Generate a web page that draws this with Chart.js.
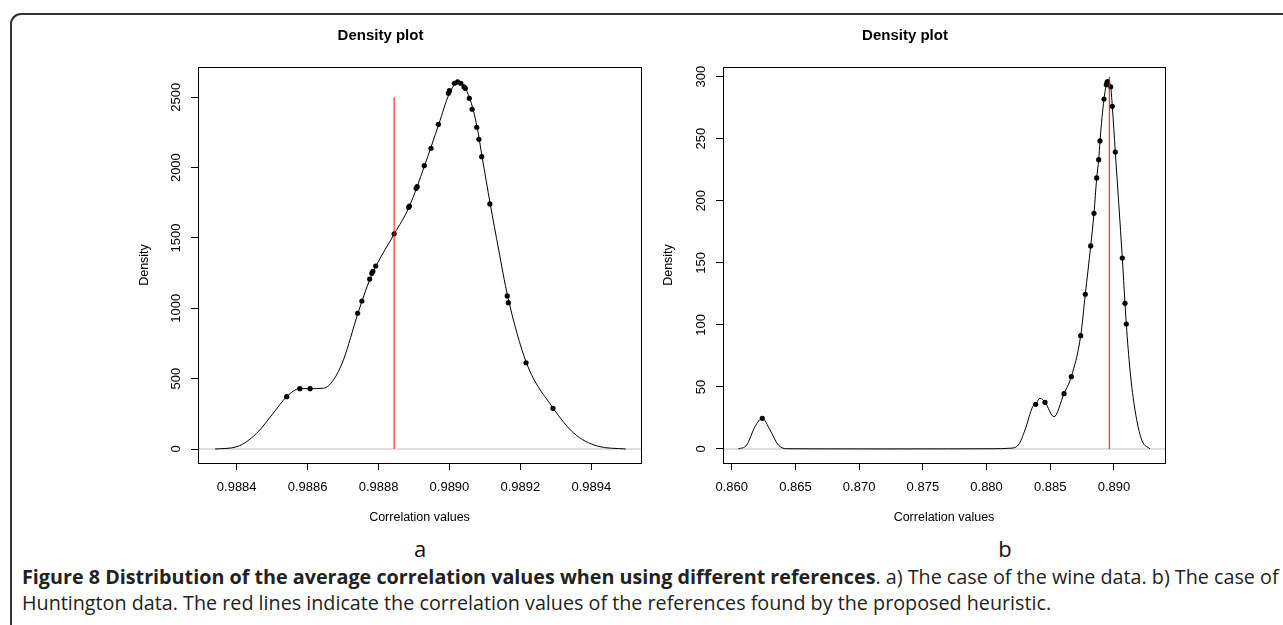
<!DOCTYPE html>
<html>
<head>
<meta charset="utf-8">
<script src="https://cdn.jsdelivr.net/npm/chart.js@4.4.1/dist/chart.umd.min.js"></script>
<style>
  html, body { margin: 0; padding: 0; background: #fff; }
  body { width: 1283px; height: 625px; position: relative; overflow: hidden; }
  .frame { position: absolute; left: 10px; top: 13px; width: 1300px; height: 700px; box-sizing: border-box;
           border-top: 2px solid #333; border-left: 2px solid #333; border-top-left-radius: 11px; }
  .panel { position: absolute; top: 20px; }
  #panelA { left: 120px; }
  #panelB { left: 645px; }
  .letter { position: absolute; top: 533px; width: 40px; margin-left: -20px; text-align: center;
            font: 22px "Open Sans", sans-serif; line-height: 30px; color: #111; }
  .caption { position: absolute; left: 22px; font-family: "Open Sans", sans-serif; font-size: 15px;
             white-space: nowrap; color: #222; line-height: 20px; }
</style>
</head>
<body>
<div class="frame"></div>
<canvas id="panelA" class="panel" width="540" height="510"></canvas>
<canvas id="panelB" class="panel" width="540" height="510"></canvas>
<div class="letter" style="left:420px">a</div>
<div class="letter" style="left:1005px">b</div>
<div id="cap1" class="caption" style="top:567px"><b>Figure 8 Distribution of the average correlation values when using different references</b>. a) The case of the wine data. b) The case of</div>
<div id="cap2" class="caption" style="top:593px">Huntington data. The red lines indicate the correlation values of the references found by the proposed heuristic.</div>
<script>
// a) wine data
const leftCurveX = [0.988339, 0.988400, 0.988456, 0.988503, 0.988541, 0.988578, 0.988607, 0.988645, 0.988673, 0.988701,
    0.988742, 0.988776, 0.988793, 0.988845, 0.988886, 0.988930, 0.988970, 0.988999, 0.989026, 0.989057,
    0.989078, 0.989092, 0.989115, 0.989139, 0.989164, 0.989217, 0.989293, 0.989351, 0.989417, 0.989497];
const leftCurveY = [0, 16, 111, 254, 372, 429, 429, 432, 491, 633,
    965, 1209, 1302, 1531, 1719, 2015, 2309, 2522, 2612, 2494,
    2288, 2079, 1742, 1415, 1088, 614, 289, 112, 21, 0];
const leftPointX = [0.988541, 0.988578, 0.988607, 0.988741, 0.988753, 0.988775, 0.988781, 0.988784, 0.988792, 0.988844,
    0.988885, 0.988887, 0.988906, 0.988909, 0.988929, 0.988948, 0.988969, 0.988997, 0.989000, 0.989014,
    0.989023, 0.989032, 0.989041, 0.989045, 0.989056, 0.989064, 0.989077, 0.989083, 0.989091, 0.989114,
    0.989163, 0.989166, 0.989216, 0.989292];
const leftPointY = [372, 429, 429, 965, 1052, 1208, 1249, 1263, 1301, 1530,
    1718, 1727, 1853, 1865, 2015, 2138, 2308, 2528, 2547, 2600,
    2609, 2600, 2575, 2564, 2493, 2415, 2287, 2201, 2078, 1742,
    1088, 1040, 613, 289];
const leftRefX = 0.988844;
const leftRefTop = 2500;
const leftXTicks = [0.9884, 0.9886, 0.9888, 0.9890, 0.9892, 0.9894];
const leftYTicks = [0, 500, 1000, 1500, 2000, 2500];

// b) Huntington data
const rightCurveX = [0.860518, 0.861177, 0.861828, 0.862401, 0.863006, 0.863657, 0.864316, 0.867, 0.872, 0.877,
    0.8805, 0.881840, 0.882491, 0.883017, 0.883621, 0.883856, 0.884194, 0.884586, 0.885293, 0.886077,
    0.886650, 0.887388, 0.887749, 0.888172, 0.888431, 0.888643, 0.888800, 0.888902, 0.889216, 0.889428,
    0.889553, 0.889742, 0.889867, 0.890103, 0.890652, 0.890864, 0.890966, 0.891256, 0.891649, 0.892175,
    0.892826];
const rightCurveY = [0, 3.2, 18.0, 24.7, 15.3, 3.2, 0.2, 0.1, 0.05, 0.1,
    0.2, 0.6, 3.2, 15.3, 34.1, 36.0, 40.9, 37.6, 26.0, 44.6,
    58.3, 91.3, 124.7, 163.6, 189.9, 218.4, 233.1, 248.2, 282.0, 294.7,
    296.0, 291.9, 276.1, 239.3, 153.9, 117.4, 100.7, 63.7, 31.4, 7.3,
    0];
const rightPointX = [0.862401, 0.883856, 0.884586, 0.886077, 0.886650, 0.887388, 0.887749, 0.888172, 0.888431, 0.888643,
    0.888800, 0.888902, 0.889216, 0.889400, 0.889450, 0.889500, 0.889742, 0.889867, 0.890103, 0.890652,
    0.890864, 0.890966];
const rightPointY = [24.7, 36.0, 37.6, 44.6, 58.3, 91.3, 124.7, 163.6, 189.9, 218.4,
    233.1, 248.2, 282.0, 293.5, 295.5, 296.0, 291.9, 276.1, 239.3, 153.9,
    117.4, 100.7];
const rightRefX = 0.889632;
const rightRefTop = 300;
const rightXTicks = [0.860, 0.865, 0.870, 0.875, 0.880, 0.885, 0.890];
const rightYTicks = [0, 50, 100, 150, 200, 250, 300];

Chart.defaults.font.family = '"Liberation Sans", Arial, sans-serif';
Chart.defaults.color = "#000";

const boxPlugin = {
    id: "box",
    afterDraw(chart) {
        const { ctx, chartArea: a } = chart;
        ctx.save();
        ctx.strokeStyle = "#000";
        ctx.lineWidth = 1;
        ctx.strokeRect(Math.round(a.left) + 0.5, Math.round(a.top) + 0.5,
            Math.round(a.right - a.left), Math.round(a.bottom - a.top));
        ctx.restore();
    }
};

function toPoints(xs, ys) {
    return xs.map((x, i) => ({ x: x, y: ys[i] }));
}

function densityChart(id, o) {
    return new Chart(document.getElementById(id), {
        type: "scatter",
        data: {
            datasets: [
                {
                    // red reference line
                    data: [{ x: o.refX, y: 0 }, { x: o.refX, y: o.refTop }],
                    showLine: true, borderColor: "#ff0000", borderWidth: 1, pointRadius: 0, order: 0
                },
                {
                    data: toPoints(o.pointX, o.pointY),
                    pointRadius: 2.6, pointBackgroundColor: "#000", pointBorderWidth: 0, order: 1
                },
                {
                    data: toPoints(o.curveX, o.curveY),
                    showLine: true, borderColor: "#000", borderWidth: 1, pointRadius: 0,
                    cubicInterpolationMode: "monotone", order: 2
                },
                {
                    // abline(h = 0)
                    data: [{ x: o.xMin, y: 0 }, { x: o.xMax, y: 0 }],
                    showLine: true, borderColor: "#bebebe", borderWidth: 1, pointRadius: 0, order: 3
                }
            ]
        },
        options: {
            responsive: false,
            animation: false,
            events: [],
            layout: { padding: { left: 0, right: o.padRight, top: 0, bottom: 0 } },
            plugins: {
                legend: { display: false },
                tooltip: { enabled: false },
                title: {
                    display: true,
                    text: "Density plot",
                    color: "#000",
                    font: { size: 15, weight: "bold" },
                    padding: { top: 7, bottom: 22 }
                }
            },
            scales: {
                x: {
                    type: "linear",
                    min: o.xMin,
                    max: o.xMax,
                    afterBuildTicks: (scale) => { scale.ticks = o.xTicks.map(v => ({ value: v })); },
                    afterFit: (scale) => { scale.height = 67; },
                    border: { display: false },
                    grid: { drawOnChartArea: false, drawTicks: true, tickLength: 7, color: "#000" },
                    ticks: {
                        autoSkip: false, maxRotation: 0, padding: 9.2,
                        font: { size: 13 },
                        callback: (v) => v.toFixed(o.xDigits)
                    },
                    title: {
                        display: true, text: "Correlation values",
                        font: { size: 12.5 }, padding: { top: 0, bottom: 4.5 }
                    }
                },
                y: {
                    type: "linear",
                    min: o.yMin,
                    max: o.yMax,
                    afterBuildTicks: (scale) => { scale.ticks = o.yTicks.map(v => ({ value: v })); },
                    afterFit: (scale) => { scale.width = 78; },
                    border: { display: false },
                    grid: { drawOnChartArea: false, drawTicks: true, tickLength: 7, color: "#000" },
                    ticks: {
                        autoSkip: false, minRotation: 90, maxRotation: 90, crossAlign: "center",
                        padding: o.yTickPad,
                        font: { size: 13 },
                        callback: (v) => String(v)
                    },
                    title: {
                        display: true, text: "Density",
                        font: { size: 12.5 }, padding: { top: o.yTitlePad, bottom: 0 }
                    }
                }
            }
        },
        plugins: [boxPlugin]
    });
}

densityChart("panelA", {
    curveX: leftCurveX, curveY: leftCurveY, pointX: leftPointX, pointY: leftPointY,
    refX: leftRefX, refTop: leftRefTop, xTicks: leftXTicks, yTicks: leftYTicks,
    xMin: 0.9882909, xMax: 0.9895402, yMin: -99.5, yMax: 2715.4, xDigits: 4,
    padRight: 19, yTickPad: 0.6, yTitlePad: 17.5
});

densityChart("panelB", {
    curveX: rightCurveX, curveY: rightCurveY, pointX: rightPointX, pointY: rightPointY,
    refX: rightRefX, refTop: rightRefTop, xTicks: rightXTicks, yTicks: rightYTicks,
    xMin: 0.859317, xMax: 0.894003, yMin: -11.3, yMax: 307.8, xDigits: 3,
    padRight: 20, yTickPad: 4.2, yTitlePad: 16.5
});

// fit caption line 1 to the figure width, line 2 uses the same size
const cap1 = document.getElementById("cap1");
const cap2 = document.getElementById("cap2");
const fs = 15 * 1257 / cap1.getBoundingClientRect().width;
cap1.style.fontSize = fs + "px";
cap2.style.fontSize = fs + "px";
</script>
</body>
</html>
